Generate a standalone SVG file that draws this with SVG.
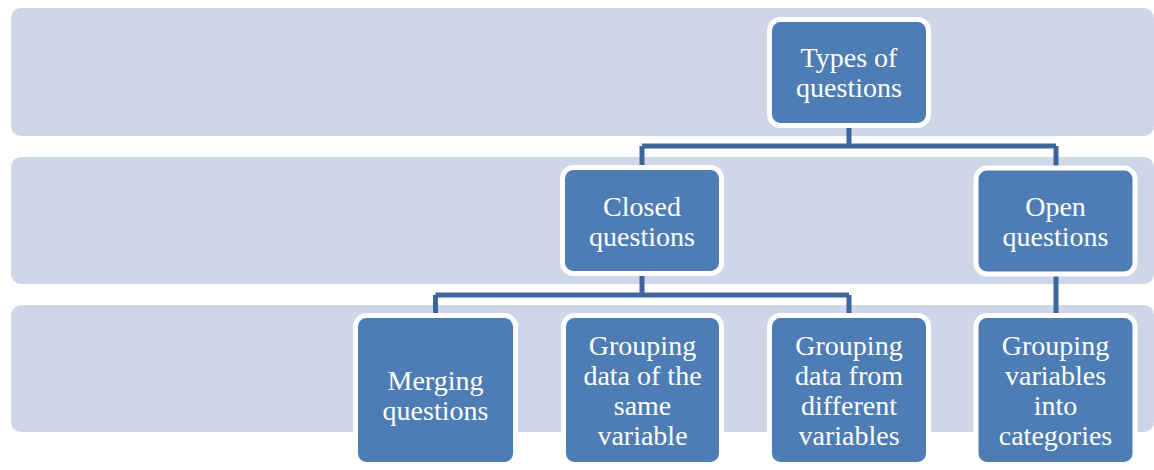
<svg xmlns="http://www.w3.org/2000/svg" width="1154" height="470" viewBox="0 0 1154 470">
<style>
.band{fill:#CDD7E7}
.node{fill:#4E7DB5;stroke:#FFFFFF;stroke-width:5}
.conn{fill:none;stroke:#3C6699;stroke-width:5}
.t{font-family:'Liberation Serif','DejaVu Serif',serif;font-size:28px;fill:#FFFFFF;text-anchor:middle}
</style>
<rect width="1154" height="470" fill="#FFFFFF"/>
<g id="bands">
<rect class="band" x="11" y="8" width="1143" height="128" rx="10"/>
<rect class="band" x="11" y="157" width="1143" height="127" rx="10"/>
<rect class="band" x="11" y="305" width="1143" height="127" rx="10"/>
</g>
<g id="connectors">
<path class="conn" d="M849 126 V146 M642 146 H1056 M642 146 V168 M1056 146 V168"/>
<path class="conn" d="M642 274 V295 M435.5 295 H849 M435.5 295 V316 M849 295 V316"/>
<path class="conn" d="M1056 274 V316"/>
</g>
<g id="types">
<rect class="node" x="769.5" y="19.5" width="159" height="106" rx="11"/>
<text class="t" font-family="Liberation Serif, serif" x="849" y="67">Types of</text>
<text class="t" font-family="Liberation Serif, serif" x="849" y="97">questions</text>
</g>
<g id="closed">
<rect class="node" x="562.5" y="167.5" width="159" height="106" rx="11"/>
<text class="t" font-family="Liberation Serif, serif" x="642" y="216">Closed</text>
<text class="t" font-family="Liberation Serif, serif" x="642" y="246">questions</text>
</g>
<g id="open">
<rect class="node" x="976" y="168" width="159" height="106" rx="11"/>
<text class="t" font-family="Liberation Serif, serif" x="1055.5" y="216">Open</text>
<text class="t" font-family="Liberation Serif, serif" x="1055.5" y="246">questions</text>
</g>
<g id="merging">
<rect class="node" x="355.5" y="315.5" width="160" height="149" rx="11"/>
<text class="t" font-family="Liberation Serif, serif" x="435.5" y="390">Merging</text>
<text class="t" font-family="Liberation Serif, serif" x="435.5" y="420">questions</text>
</g>
<g id="same">
<rect class="node" x="563.5" y="315.5" width="158" height="149" rx="11"/>
<text class="t" font-family="Liberation Serif, serif" x="642.5" y="355">Grouping</text>
<text class="t" font-family="Liberation Serif, serif" x="642.5" y="385">data of the</text>
<text class="t" font-family="Liberation Serif, serif" x="642.5" y="415">same</text>
<text class="t" font-family="Liberation Serif, serif" x="642.5" y="445">variable</text>
</g>
<g id="different">
<rect class="node" x="769.5" y="315.5" width="159" height="149" rx="11"/>
<text class="t" font-family="Liberation Serif, serif" x="849" y="355">Grouping</text>
<text class="t" font-family="Liberation Serif, serif" x="849" y="385">data from</text>
<text class="t" font-family="Liberation Serif, serif" x="849" y="415">different</text>
<text class="t" font-family="Liberation Serif, serif" x="849" y="445">variables</text>
</g>
<g id="categories">
<rect class="node" x="976" y="315.5" width="159" height="149" rx="11"/>
<text class="t" font-family="Liberation Serif, serif" x="1055.5" y="355">Grouping</text>
<text class="t" font-family="Liberation Serif, serif" x="1055.5" y="385">variables</text>
<text class="t" font-family="Liberation Serif, serif" x="1055.5" y="415">into</text>
<text class="t" font-family="Liberation Serif, serif" x="1055.5" y="445">categories</text>
</g>
</svg>
